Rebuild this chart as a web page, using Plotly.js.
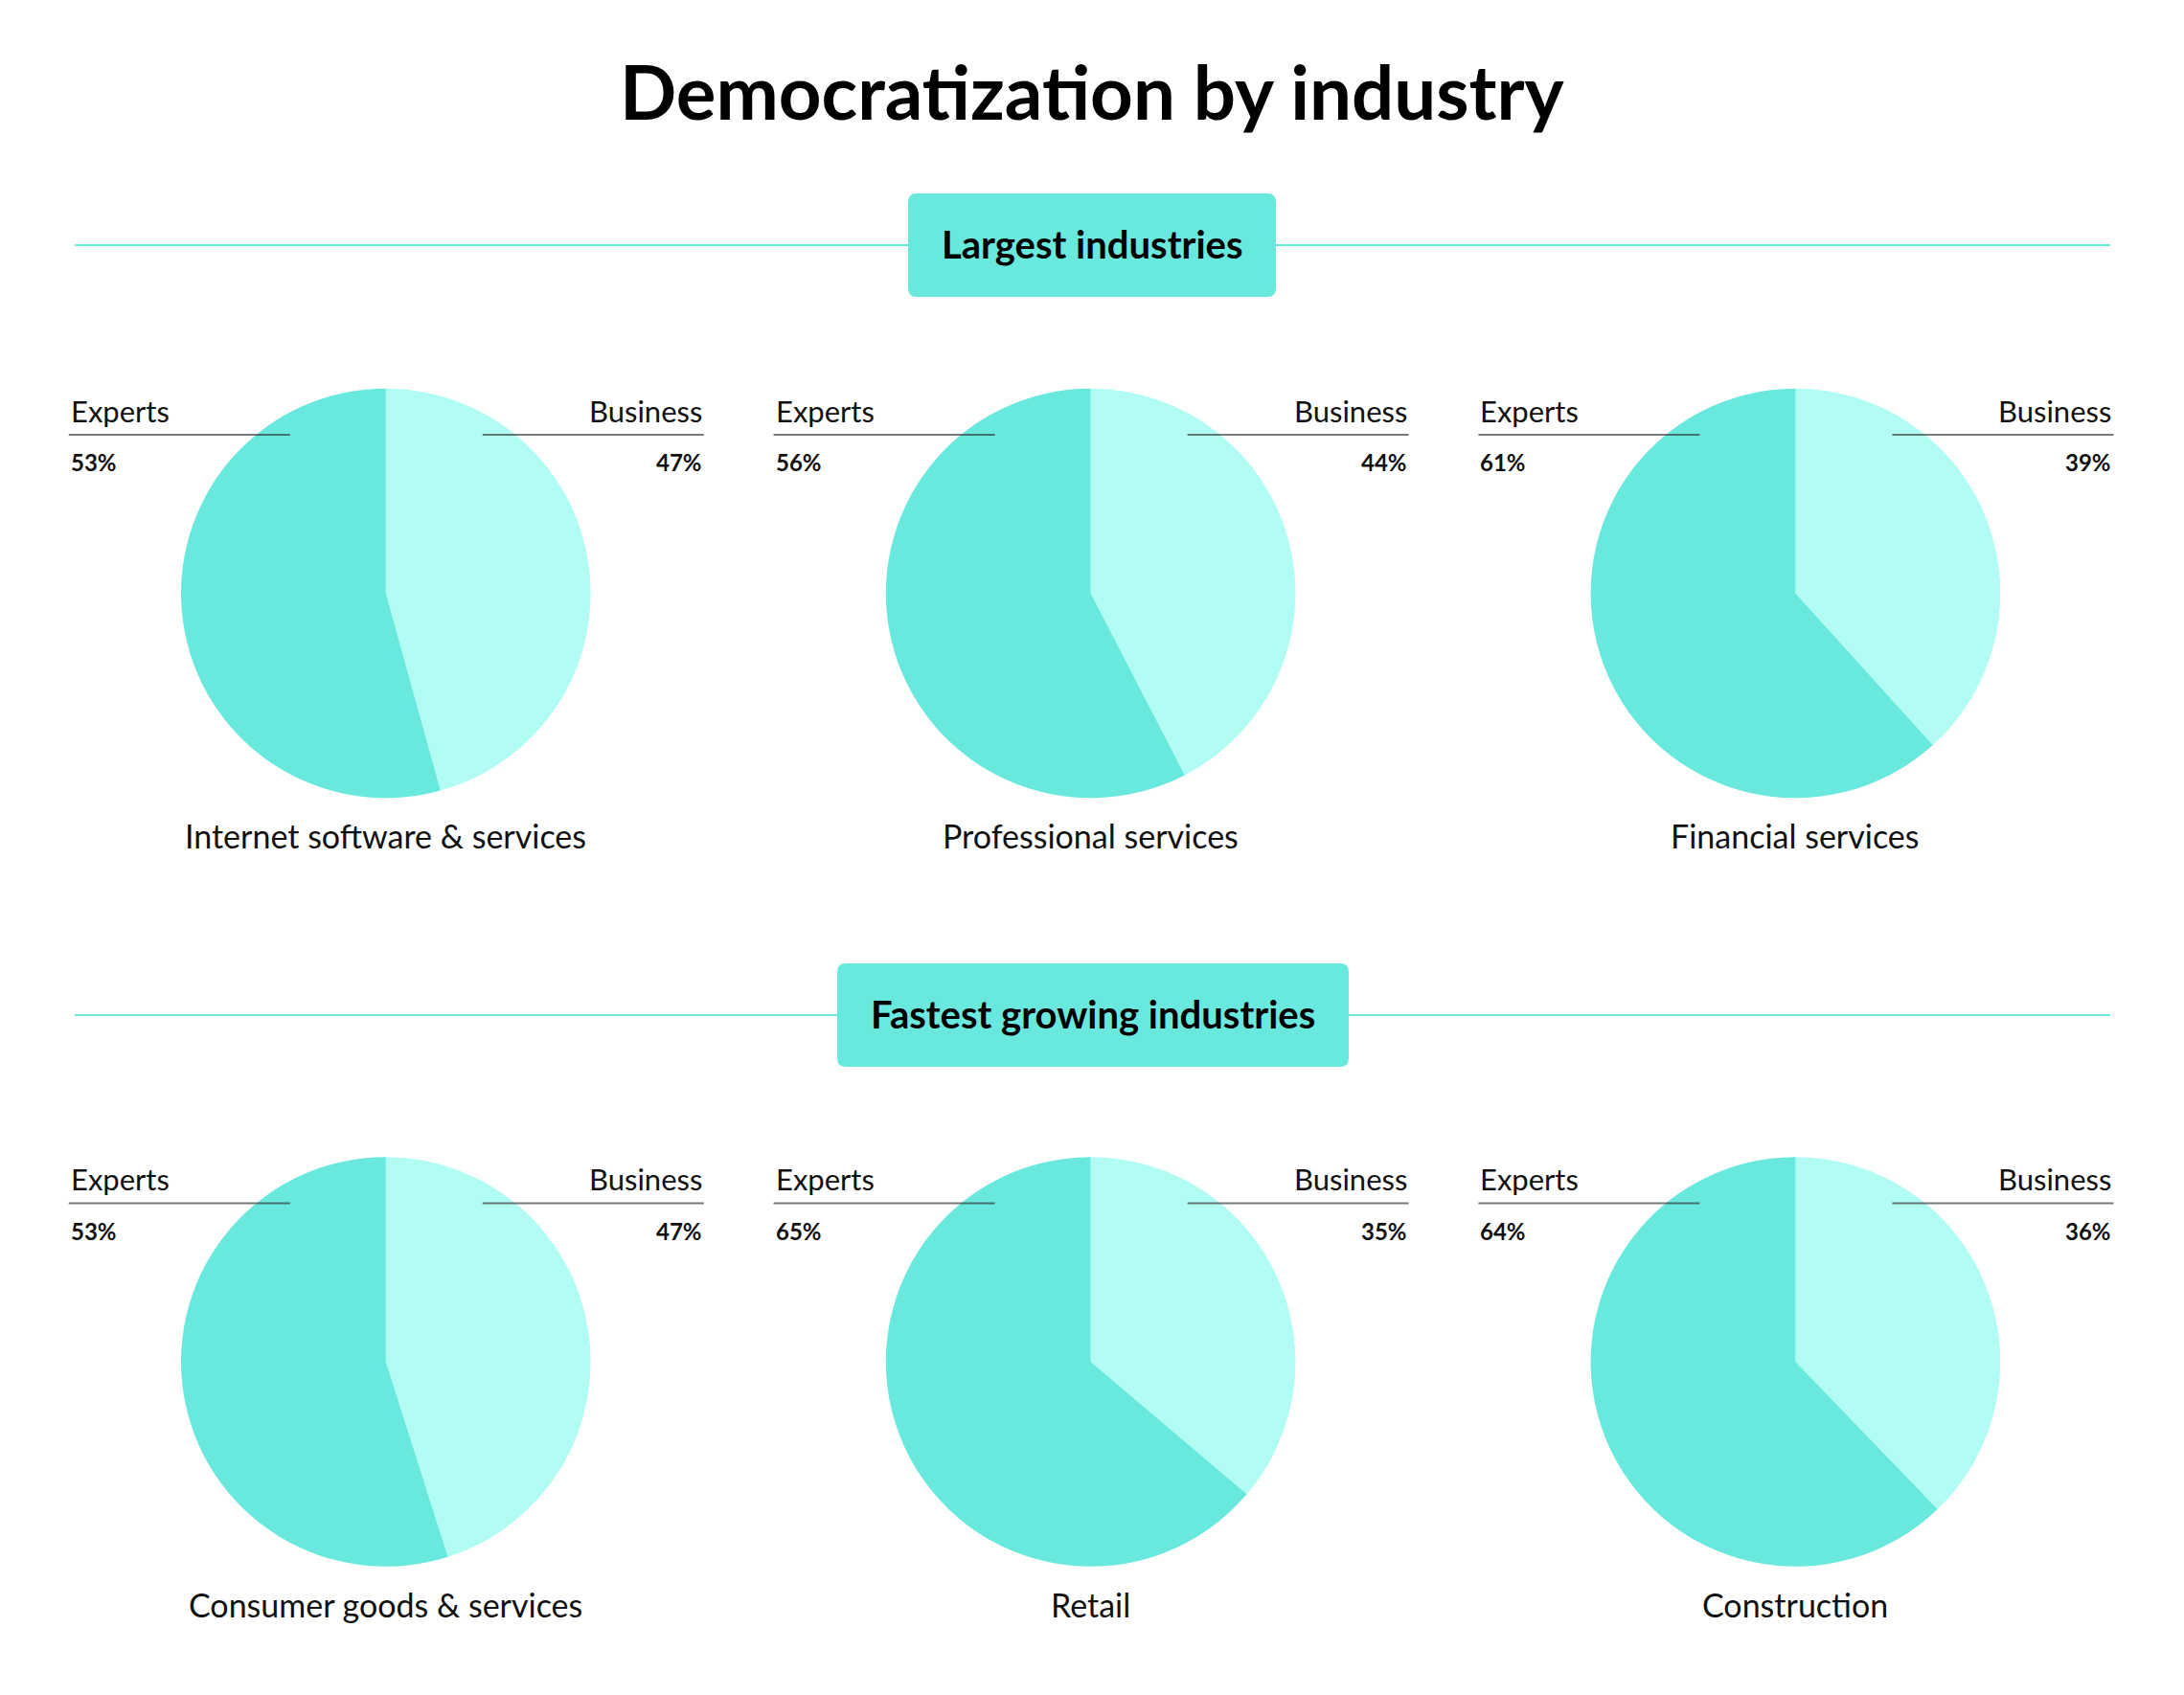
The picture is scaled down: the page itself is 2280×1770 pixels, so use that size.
<!DOCTYPE html>
<html>
<head>
<meta charset="utf-8">
<script src="https://cdn.plot.ly/plotly-3.0.1.min.js"></script>
<style>html,body{margin:0;padding:0;background:#fff;}#chart{width:2280px;height:1770px;}</style>
</head>
<body>
<div id="chart"></div>
<script>
// ---- data ----
const chartTitle = "Democratization by industry";
const sections = ["Largest industries", "Fastest growing industries"];
const categories = ["Internet software & services", "Professional services", "Financial services",
                    "Consumer goods & services", "Retail", "Construction"];
const seriesNames = ["Experts", "Business"];
// percentages printed as labels
const experts = [53, 56, 61, 53, 65, 64];
const business = [47, 44, 39, 47, 35, 36];
// slice sizes as drawn in the picture
const expertsSlice = [54.3, 57.6, 61.7, 54.9, 63.8, 62.2];
const businessSlice = [45.7, 42.4, 38.3, 45.1, 36.2, 37.8];

// ---- layout constants ----
const W = 2280, H = 1770;
const FONT = "Lato, 'Noto Sans', sans-serif";
const EXP_COLOR = "#69E9DD", BUS_COLOR = "#B1FDF4";
const centersX = [402.8, 1138.6, 1874.4];
const centersY = [619.5, 1422];
const R = 213.8;
const headerY = [256, 1060];
const boxes = [[948, 202, 1332, 310], [874, 1006, 1408, 1114]];

const px = x => x / W;
const py = y => 1 - y / H;

const traces = [];
const annotations = [];
const shapes = [];

annotations.push({
  text: chartTitle, x: 0.5, y: py(95), xref: "paper", yref: "paper",
  xanchor: "center", yanchor: "middle", showarrow: false,
  font: {family: FONT, size: 78, color: "#000", weight: 700}
});

sections.forEach((s, i) => {
  shapes.push({type: "line", xref: "paper", yref: "paper", x0: px(78), x1: px(2203),
    y0: py(headerY[i]), y1: py(headerY[i]), line: {color: EXP_COLOR, width: 2}});
  const [x0, y0, x1, y1] = boxes[i];
  const r = 9;
  const path = `M ${px(x0 + r)},${py(y0)} L ${px(x1 - r)},${py(y0)} Q ${px(x1)},${py(y0)} ${px(x1)},${py(y0 + r)} ` +
    `L ${px(x1)},${py(y1 - r)} Q ${px(x1)},${py(y1)} ${px(x1 - r)},${py(y1)} ` +
    `L ${px(x0 + r)},${py(y1)} Q ${px(x0)},${py(y1)} ${px(x0)},${py(y1 - r)} ` +
    `L ${px(x0)},${py(y0 + r)} Q ${px(x0)},${py(y0)} ${px(x0 + r)},${py(y0)} Z`;
  shapes.push({type: "path", xref: "paper", yref: "paper", path: path,
    fillcolor: EXP_COLOR, line: {width: 0}});
  annotations.push({
    text: s, x: px((x0 + x1) / 2), y: py((y0 + y1) / 2 - 1), xref: "paper", yref: "paper",
    xanchor: "center", yanchor: "middle", showarrow: false,
    font: {family: FONT, size: 40, color: "#000", weight: 700}
  });
});

categories.forEach((cat, i) => {
  const cx = centersX[i % 3];
  const cy = centersY[Math.floor(i / 3)];
  traces.push({
    type: "pie",
    labels: [seriesNames[1], seriesNames[0]],
    values: [businessSlice[i], expertsSlice[i]],
    marker: {colors: [BUS_COLOR, EXP_COLOR], line: {width: 0}},
    sort: false, direction: "clockwise", rotation: 0,
    textinfo: "none", hoverinfo: "none", showlegend: false,
    domain: {x: [px(cx - R), px(cx + R)], y: [py(cy + R), py(cy - R)]}
  });
  annotations.push({text: seriesNames[0], x: px(cx - 331), y: py(cy - 191), xref: "paper", yref: "paper",
    xanchor: "left", yanchor: "middle", showarrow: false, font: {family: FONT, size: 31, color: "#111"}});
  annotations.push({text: seriesNames[1], x: px(cx + 332), y: py(cy - 191), xref: "paper", yref: "paper",
    xanchor: "right", yanchor: "middle", showarrow: false, font: {family: FONT, size: 31, color: "#111"}});
  annotations.push({text: experts[i] + "%", x: px(cx - 331), y: py(cy - 137), xref: "paper", yref: "paper",
    xanchor: "left", yanchor: "middle", showarrow: false, font: {family: FONT, size: 24, color: "#111", weight: 700}});
  annotations.push({text: business[i] + "%", x: px(cx + 332), y: py(cy - 137), xref: "paper", yref: "paper",
    xanchor: "right", yanchor: "middle", showarrow: false, font: {family: FONT, size: 24, color: "#111", weight: 700}});
  annotations.push({text: cat, x: px(cx), y: py(cy + 253), xref: "paper", yref: "paper",
    xanchor: "center", yanchor: "middle", showarrow: false, font: {family: FONT, size: 34, color: "#111"}});
  shapes.push({type: "line", xref: "paper", yref: "paper", x0: px(cx - 331), x1: px(cx - 100),
    y0: py(cy - 165.5), y1: py(cy - 165.5), line: {color: "rgba(50,50,50,0.65)", width: 2}});
  shapes.push({type: "line", xref: "paper", yref: "paper", x0: px(cx + 101), x1: px(cx + 332),
    y0: py(cy - 165.5), y1: py(cy - 165.5), line: {color: "rgba(50,50,50,0.65)", width: 2}});
});

const layout = {
  width: W, height: H,
  margin: {l: 0, r: 0, t: 0, b: 0},
  paper_bgcolor: "#fff", plot_bgcolor: "#fff",
  showlegend: false,
  annotations: annotations,
  shapes: shapes
};

Plotly.newPlot("chart", traces, layout, {staticPlot: true, displayModeBar: false});
</script>
</body>
</html>
